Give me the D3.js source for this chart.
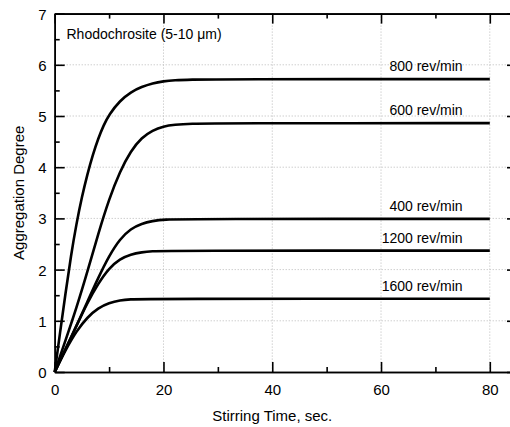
<!DOCTYPE html>
<html>
<head>
<meta charset="utf-8">
<script src="https://cdn.jsdelivr.net/npm/d3@7"></script>
<style>
  body { margin: 0; background: #fff; }
  svg { display: block; font-family: "Liberation Sans", Arial, Helvetica, sans-serif; }
  .grid line { stroke: #b8b8b8; stroke-width: 1; stroke-dasharray: 1 2; }
  .axis path, .axis line { stroke: #000; stroke-width: 1.6; }
  .axis text { font-size: 15px; fill: #000; }
  .curve { fill: none; stroke: #000; stroke-width: 2.6; }
  .lbl { font-size: 14px; fill: #000; }
</style>
</head>
<body>
<div id="chart"></div>
<script>
// stirring time (s) sampled along each curve
var times800 = [0, 1, 2, 3, 4, 5, 6, 7, 8, 9, 10, 12, 14, 16, 18, 20, 22, 25, 30, 80];
var deg800   = [0, 0.78, 1.55, 2.28, 2.9, 3.42, 3.86, 4.24, 4.56, 4.82, 5.03, 5.3, 5.47, 5.57, 5.64, 5.68, 5.7, 5.71, 5.72, 5.72];

var times600 = [0, 2, 4, 6, 8, 10, 12, 14, 16, 18, 20, 22, 25, 30, 80];
var deg600   = [0, 0.62, 1.25, 1.95, 2.7, 3.38, 3.92, 4.32, 4.58, 4.72, 4.8, 4.83, 4.85, 4.86, 4.86];

var times400 = [0, 2, 4, 6, 8, 10, 12, 14, 16, 18, 20, 25, 80];
var deg400   = [0, 0.45, 0.9, 1.37, 1.84, 2.27, 2.6, 2.8, 2.9, 2.95, 2.98, 2.99, 2.99];

var times1200 = [0, 2, 4, 6, 8, 10, 12, 14, 16, 18, 20, 80];
var deg1200   = [0, 0.45, 0.9, 1.35, 1.73, 2.03, 2.21, 2.3, 2.34, 2.36, 2.37, 2.37];

var times1600 = [0, 2, 4, 6, 8, 10, 12, 14, 16, 80];
var deg1600   = [0, 0.43, 0.8, 1.07, 1.25, 1.35, 1.4, 1.42, 1.43, 1.43];

var seriesNames = ["800 rev/min", "600 rev/min", "400 rev/min", "1200 rev/min", "1600 rev/min"];
var seriesTimes = [times800, times600, times400, times1200, times1600];
var seriesDeg   = [deg800, deg600, deg400, deg1200, deg1600];

var xMajor = [0, 20, 40, 60, 80];
var xMinor = [10, 30, 50, 70];
var yMajor = [0, 1, 2, 3, 4, 5, 6, 7];
var yMinor = [0.5, 1.5, 2.5, 3.5, 4.5, 5.5, 6.5];
var gridX = [20, 40, 60, 80];
var gridY = [1, 2, 3, 4, 5, 6];

var W = 510, H = 427;
var pL = 54.7, pR = 517, pT = 13.6, pB = 372;

var svg = d3.select("#chart").append("svg").attr("width", W).attr("height", H);

var x = d3.scaleLinear().domain([0, 85]).range([pL, pR]);
var y = d3.scaleLinear().domain([0, 7]).range([pB, pT]);

// dotted grid
var grid = svg.append("g").attr("class", "grid");
grid.selectAll(".gx").data(gridX).enter().append("line")
  .attr("x1", function (d) { return x(d); }).attr("x2", function (d) { return x(d); })
  .attr("y1", pT).attr("y2", pB);
grid.selectAll(".gy").data(gridY).enter().append("line")
  .attr("x1", pL).attr("x2", pR)
  .attr("y1", function (d) { return y(d); }).attr("y2", function (d) { return y(d); });

// axes, ticks pointing inward
function addAxis(axis, tr, vals, size, labels) {
  var g = svg.append("g").attr("class", "axis").attr("transform", tr)
    .call(axis.tickValues(vals).tickSizeInner(size).tickSizeOuter(0).tickPadding(labels ? 9 : 0));
  if (!labels) g.selectAll("text").remove();
  return g;
}
addAxis(d3.axisBottom(x), "translate(0," + pB + ")", xMinor, -5, false);
addAxis(d3.axisBottom(x), "translate(0," + pB + ")", xMajor, -10, true)
  .selectAll("text").attr("y", 12).attr("dy", "0.71em");
addAxis(d3.axisTop(x), "translate(0," + pT + ")", xMinor, -5, false);
addAxis(d3.axisTop(x), "translate(0," + pT + ")", xMajor, -10, false);
addAxis(d3.axisLeft(y), "translate(" + pL + ",0)", yMinor, -5, false);
addAxis(d3.axisLeft(y).tickFormat(d3.format("d")), "translate(" + pL + ",0)", yMajor, -10, true)
  .selectAll("text").attr("x", -8).attr("dy", "0.36em");
addAxis(d3.axisRight(y), "translate(" + pR + ",0)", yMinor, -5, false);
addAxis(d3.axisRight(y), "translate(" + pR + ",0)", yMajor, -10, false);

// curves
var line = d3.line()
  .x(function (d) { return x(d[0]); })
  .y(function (d) { return y(d[1]); })
  .curve(d3.curveBasis);

seriesNames.forEach(function (name, i) {
  var pts = seriesTimes[i].map(function (t, j) { return [t, seriesDeg[i][j]]; });
  svg.append("path").attr("class", "curve").attr("d", line(pts));
  var last = seriesDeg[i][seriesDeg[i].length - 1];
  svg.append("text").attr("class", "lbl")
    .attr("x", x(75)).attr("y", y(last) - 8)
    .attr("text-anchor", "end")
    .text(name);
});

svg.append("text").attr("class", "lbl")
  .attr("x", 66.5).attr("y", 38.5)
  .text("Rhodochrosite (5-10 \u03bcm)");

// axis titles
svg.append("text")
  .attr("x", (pL + x(80)) / 2).attr("y", 421)
  .attr("text-anchor", "middle").style("font-size", "15px")
  .text("Stirring Time, sec.");
svg.append("text")
  .attr("transform", "translate(24," + ((pT + pB) / 2) + ") rotate(-90)")
  .attr("text-anchor", "middle").style("font-size", "15px")
  .text("Aggregation Degree");
</script>
</body>
</html>
